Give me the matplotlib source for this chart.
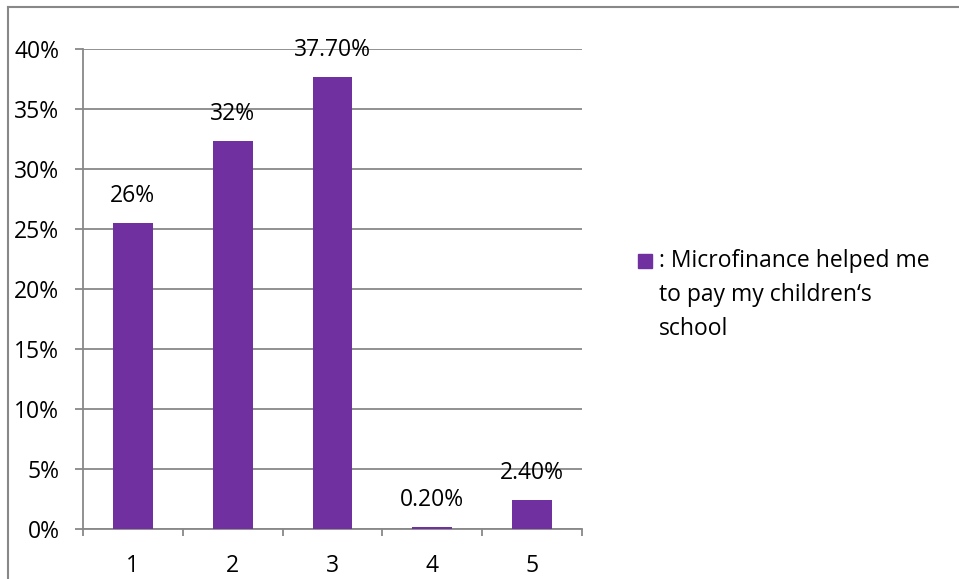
import matplotlib
matplotlib.use("Agg")
import matplotlib.pyplot as plt
from matplotlib.lines import Line2D
from matplotlib.patches import Rectangle

plt.rcParams['font.family'] = ['Open Sans', 'DejaVu Sans']

categories = ["1", "2", "3", "4", "5"]
values = [0.255, 0.323, 0.377, 0.002, 0.024]
bar_labels = ["26%", "32%", "37.70%", "0.20%", "2.40%"]
series_name = ": Microfinance helped me\nto pay my children\u2018s\nschool"
yticks = [0, 0.05, 0.10, 0.15, 0.20, 0.25, 0.30, 0.35, 0.40]
ytick_labels = ["0%", "5%", "10%", "15%", "20%", "25%", "30%", "35%", "40%"]

bar_color = '#7030A0'
grid_color = '#888888'
W, H = 959, 579
fs = 16.5

fig = plt.figure(figsize=(W / 100, H / 100), dpi=100)
ax = fig.add_axes([83 / W, 1 - 529 / H, (582 - 83) / W, (529 - 49) / H])

x = list(range(1, len(categories) + 1))
ax.bar(x, values, width=0.4, color=bar_color, zorder=3)

for xi, v, lab in zip(x, values, bar_labels):
    ax.annotate(lab, (xi, v), xytext=(0, 27), textcoords='offset pixels',
                ha='center', va='center', fontsize=fs, zorder=4)

ax.set_xlim(0.5, 5.5)
ax.set_ylim(0, 0.40)
ax.set_yticks(yticks)
ax.set_yticklabels(ytick_labels, fontsize=fs)
ax.set_xticks(x)
ax.set_xticklabels(categories, fontsize=fs)
ax.set_xticks([i + 0.5 for i in range(0, 6)], minor=True)

ax.yaxis.grid(True, color=grid_color, linewidth=1.3, zorder=0)
ax.tick_params(axis='y', length=6, width=1.3, color=grid_color, pad=11)
ax.tick_params(axis='x', which='major', length=0, pad=18)
ax.tick_params(axis='x', which='minor', length=5, width=1.3, color=grid_color)

for side in ['top', 'right']:
    ax.spines[side].set_visible(False)
for side in ['left', 'bottom']:
    ax.spines[side].set_color(grid_color)
    ax.spines[side].set_linewidth(1.3)

# legend drawn by hand so the swatch sits on the first line
fig.add_artist(Rectangle((638 / W, 1 - 268 / H), 14 / W, 14 / H,
                         transform=fig.transFigure, color=bar_color))
fig.text(659 / W, 1 - 249 / H, series_name, fontsize=fs, va='top', ha='left',
         linespacing=1.55)

# outer chart frame
fig.add_artist(Line2D([8 / W, 1], [1 - 6.5 / H, 1 - 6.5 / H], color='#888888', linewidth=1.5))
fig.add_artist(Line2D([8 / W, 8 / W], [0, 1 - 6.5 / H], color='#888888', linewidth=1.5))

fig.savefig("out.png", dpi=100)
